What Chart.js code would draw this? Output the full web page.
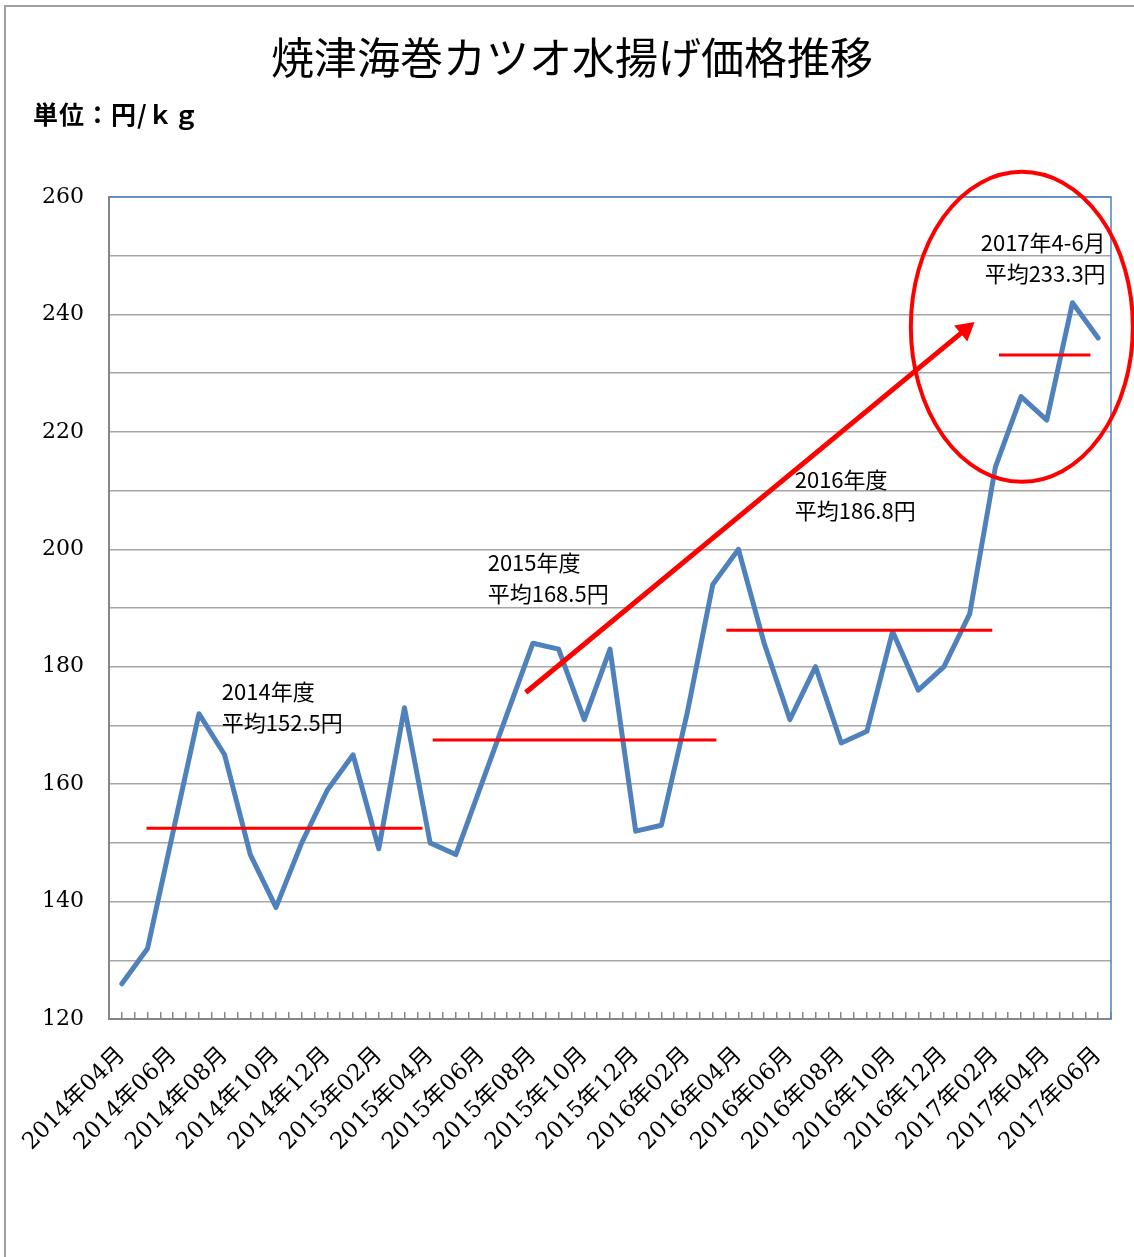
<!DOCTYPE html>
<html>
<head>
<meta charset="utf-8">
<script src="https://cdn.jsdelivr.net/npm/chart.js@4/dist/chart.umd.min.js"></script>
<style>
  html, body { margin: 0; padding: 0; background: #fff; overflow: hidden; }
  #wrap { position: relative; width: 1134px; height: 1257px; }
  #frame { position: absolute; left: 4px; top: 5px; width: 1200px; height: 1300px;
           border-left: 2px solid #a0a0a0; border-top: 2px solid #a0a0a0; }
  #title { position: absolute; left: 0; width: 1144px; top: 27px; text-align: center;
           font-family: "Noto Sans CJK JP"; font-size: 43px; line-height: 56px; color: #000; }
  #unit { position: absolute; left: 33px; top: 96px; font-family: "Noto Sans CJK JP";
          font-weight: bold; font-size: 25px; line-height: 34px; color: #000; letter-spacing: 1px; }
  canvas { position: absolute; left: 0; top: 0; }
</style>
</head>
<body>
<div id="wrap">
  <div id="frame"></div>
  <canvas id="chart" width="1134" height="1257"></canvas>
  <div id="title">焼津海巻カツオ水揚げ価格推移</div>
  <div id="unit">単位：円/ｋｇ</div>
</div>
<script>
// monthly landing price (yen/kg)
const months = [
  '2014年04月', '2014年05月', '2014年06月', '2014年07月', '2014年08月', '2014年09月',
  '2014年10月', '2014年11月', '2014年12月', '2015年01月', '2015年02月', '2015年03月',
  '2015年04月', '2015年05月', '2015年06月', '2015年07月', '2015年08月', '2015年09月',
  '2015年10月', '2015年11月', '2015年12月', '2016年01月', '2016年02月', '2016年03月',
  '2016年04月', '2016年05月', '2016年06月', '2016年07月', '2016年08月', '2016年09月',
  '2016年10月', '2016年11月', '2016年12月', '2017年01月', '2017年02月', '2017年03月',
  '2017年04月', '2017年05月', '2017年06月'
];
const prices = [
  126, 132, 152, 172, 165, 148, 139, 150, 159, 165, 149, 173,
  150, 148, 160, 172, 184, 183, 171, 183, 152, 153, 172, 194,
  200, 184, 171, 180, 167, 169, 186, 176, 180, 189, 214, 226,
  222, 242, 236
];
const yTicks = [120, 140, 160, 180, 200, 220, 240, 260];

// hand-drawn average bars (month index span, level as drawn)
const avgStart = [0.96, 12.1, 23.53, 34.14];
const avgEnd = [11.7, 23.14, 33.88, 37.7];
const avgLevel = [152.5, 167.5, 186.2, 233.1];
const avgText = [
  ['2014年度', '平均152.5円'],
  ['2015年度', '平均168.5円'],
  ['2016年度', '平均186.8円'],
  ['2017年4-6月', '平均233.3円']
];

// trend arrow (month index, yen)
const arrowX = [15.72, 32.83];
const arrowY = [175.6, 237.4];

const lineData = prices.map((v, i) => ({ x: i, y: v }));
const avgSets = avgLevel.map((lv, k) => ({
  data: [{ x: avgStart[k], y: lv }, { x: avgEnd[k], y: lv }],
  borderColor: '#ff0000',
  borderWidth: 3,
  pointRadius: 0,
  order: 0
}));

const extras = {
  id: 'extras',
  beforeDatasetsDraw(chart) {
    const { ctx, chartArea: a } = chart;
    ctx.save();
    ctx.strokeStyle = '#4f81bd';
    ctx.lineWidth = 1.5;
    ctx.beginPath();
    ctx.moveTo(a.left, a.top);
    ctx.lineTo(a.right, a.top);
    ctx.lineTo(a.right, a.bottom);
    ctx.stroke();
    ctx.restore();
  },
  afterDatasetsDraw(chart) {
    const { ctx } = chart;
    const xs = chart.scales.x, ys = chart.scales.y;
    ctx.save();
    // highlight ellipse
    const cx = xs.getPixelForValue(35.03), cy = ys.getPixelForValue(237.9);
    const rx = xs.getPixelForValue(35.03 + 4.32) - cx;
    const ry = cy - ys.getPixelForValue(237.9 + 26.4);
    ctx.strokeStyle = '#ff0000';
    ctx.lineWidth = 4;
    ctx.beginPath();
    ctx.ellipse(cx, cy, rx, ry, 0, 0, Math.PI * 2);
    ctx.stroke();
    // annotation text
    ctx.fillStyle = '#000';
    ctx.font = '22px "Noto Sans CJK JP"';
    ctx.textBaseline = 'middle';
    const anchors = [[3.89, 175.7, 'left'], [14.24, 197.8, 'left'], [26.19, 211.8, 'left'], [38.29, 252.3, 'right']];
    anchors.forEach((p, k) => {
      const x = xs.getPixelForValue(p[0]), y = ys.getPixelForValue(p[1]);
      ctx.textAlign = p[2];
      ctx.fillText(avgText[k][0], x, y);
      ctx.fillText(avgText[k][1], x, y + 31);
    });
    ctx.restore();
  }
};

new Chart(document.getElementById('chart'), {
  type: 'line',
  data: {
    datasets: [
      {
        data: [{ x: arrowX[0], y: arrowY[0] }, { x: arrowX[1], y: arrowY[1] }],
        borderColor: '#ff0000',
        backgroundColor: '#ff0000',
        borderWidth: 5,
        pointRadius: [0, 12],
        pointStyle: 'triangle',
        pointRotation: 50.4,
        pointBorderWidth: 0,
        order: 0
      },
      ...avgSets,
      {
        data: lineData,
        borderColor: '#4f81bd',
        borderWidth: 5,
        borderJoinStyle: 'round',
        borderCapStyle: 'round',
        pointRadius: 0,
        tension: 0,
        order: 1
      }
    ]
  },
  options: {
    responsive: false,
    devicePixelRatio: 1,
    animation: false,
    events: [],
    layout: { padding: { left: 0, top: 197, right: 23, bottom: 0 } },
    plugins: { legend: { display: false }, tooltip: { enabled: false } },
    scales: {
      x: {
        type: 'linear',
        min: -0.5,
        max: 38.5,
        afterFit: s => { s.height = 238; s.paddingLeft = 0; s.paddingRight = 0; },
        border: { color: '#868686', width: 2 },
        grid: { drawOnChartArea: false, tickLength: -7, color: '#868686', lineWidth: 1.5 },
        ticks: {
          stepSize: 0.5,
          autoSkip: false,
          minRotation: 45,
          maxRotation: 45,
          padding: 30,
          color: '#000',
          font: { family: '"DejaVu Serif", "Noto Sans CJK JP"', size: 23 },
          callback: v => (Number.isInteger(v) && v % 2 === 0 ? months[v] : '')
        }
      },
      y: {
        min: 120,
        max: 260,
        afterFit: s => { s.width = 109; s.paddingTop = 0; s.paddingBottom = 0; },
        border: { color: '#868686', width: 2 },
        grid: { drawTicks: false, color: '#a6a6a6', lineWidth: 1.5 },
        ticks: {
          stepSize: 10,
          padding: 25,
          color: '#000',
          font: { family: '"DejaVu Serif"', size: 22 },
          callback: v => (yTicks.includes(v) ? String(v) : '')
        }
      }
    }
  },
  plugins: [extras]
});
</script>
</body>
</html>
